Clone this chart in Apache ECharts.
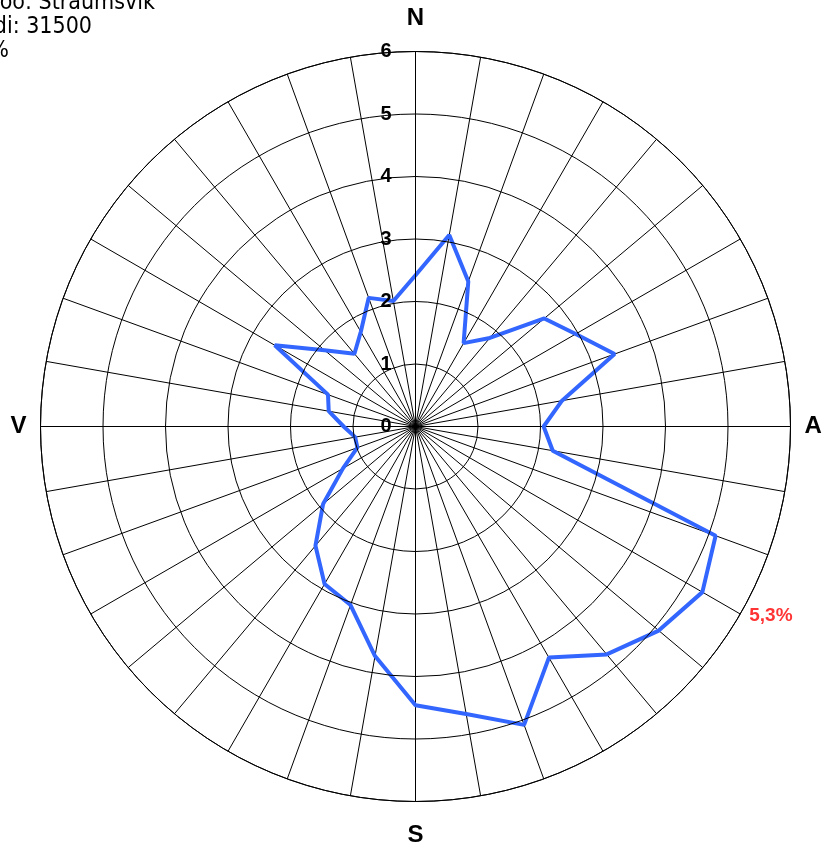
<!DOCTYPE html>
<html><head><meta charset="utf-8">
<script src="https://cdn.jsdelivr.net/npm/echarts@6/dist/echarts.min.js"></script>
<style>html,body{margin:0;padding:0;background:#fff;overflow:hidden}#c{width:825px;height:848px}</style>
</head><body><div id="c"></div>
<script>
// Wind directions (degrees, clockwise from north)
const angles = [0,10,20,30,40,50,60,70,80,90,100,110,120,130,140,150,160,170,
                180,190,200,210,220,230,240,250,260,270,280,290,300,310,320,330,340,350];
// Frequency (%) per direction
const frequency = [2.42,3.11,2.47,1.54,1.85,2.69,2.96,3.39,2.38,2.05,2.23,5.11,5.30,5.08,4.76,4.27,5.08,4.67,
                   4.46,3.73,3.04,2.91,2.49,1.93,1.34,0.99,0.98,1.15,1.41,1.49,2.60,1.90,1.52,1.75,2.19,2.04];
const radiusMax = 6;
const compassLabels = {0:'N', 90:'A', 180:'S', 270:'V'};
const titleLines = ['Veðurstöð: Straumsvík', 'Fjöldi: 31500', 'Logn: 0,6%'];

const chart = echarts.init(document.getElementById('c'), null, {renderer:'canvas'});
const lineData = angles.map((a,i)=>[frequency[i], a]);
lineData.push([frequency[0], 360]);
let maxIdx = 0;
frequency.forEach((v,i)=>{ if (v > frequency[maxIdx]) maxIdx = i; });
const maxText = frequency[maxIdx].toFixed(1).replace('.', ',') + '%';

const black = {color:'#000', width:1};
const boldFont = 'Liberation Sans, Arial, sans-serif';
chart.setOption({
  animation:false,
  backgroundColor:'#fff',
  polar:{center:[415.5,426.5], radius:375},
  angleAxis:{
    type:'value', min:0, max:360, interval:10, startAngle:90, clockwise:true,
    axisLine:{show:true, lineStyle:black},
    axisTick:{show:false},
    splitLine:{show:true, lineStyle:black},
    axisLabel:{
      show:true, margin:14,
      formatter:v=>{
        if (v===0) return '{ns|N}';
        if (v===180) return '{ss|S}';
        return compassLabels[v] || '';
      },
      fontFamily:boldFont, fontWeight:'bold', fontSize:24, color:'#000',
      rich:{
        ns:{fontFamily:boldFont, fontWeight:'bold', fontSize:24, color:'#000', padding:[0,0,7,0]},
        ss:{fontFamily:boldFont, fontWeight:'bold', fontSize:24, color:'#000', padding:[8,0,0,0]}
      }
    }
  },
  radiusAxis:{
    type:'value', min:0, max:radiusMax, interval:1,
    axisLine:{show:true, lineStyle:black},
    axisTick:{show:false},
    splitLine:{show:true, lineStyle:black},
    axisLabel:{show:true, margin:24, fontFamily:boldFont, fontWeight:'bold', fontSize:20, color:'#000', verticalAlign:'middle'},
    z:10
  },
  graphic: titleLines.map((t,i)=>({
    type:'text',
    x:[155,92,9][i], y:-8 + i*24,
    style:{text:t, align:'right', verticalAlign:'top', font:'23px "DejaVu Sans Condensed", "DejaVu Sans", Verdana, sans-serif', fill:'#000'}
  })),
  series:[
    {type:'line', coordinateSystem:'polar', data:lineData, showSymbol:false, symbol:'none',
     lineStyle:{color:'#3366ff', width:4}, z:5, silent:true},
    {type:'scatter', coordinateSystem:'polar', data:[[radiusMax, angles[maxIdx]]], symbolSize:0,
     label:{show:true, position:'right', distance:9, offset:[0,2], formatter:()=>maxText,
            fontFamily:boldFont, fontWeight:'bold', fontSize:19, color:'#ff0000'}, z:6, silent:true}
  ]
});
</script></body></html>
